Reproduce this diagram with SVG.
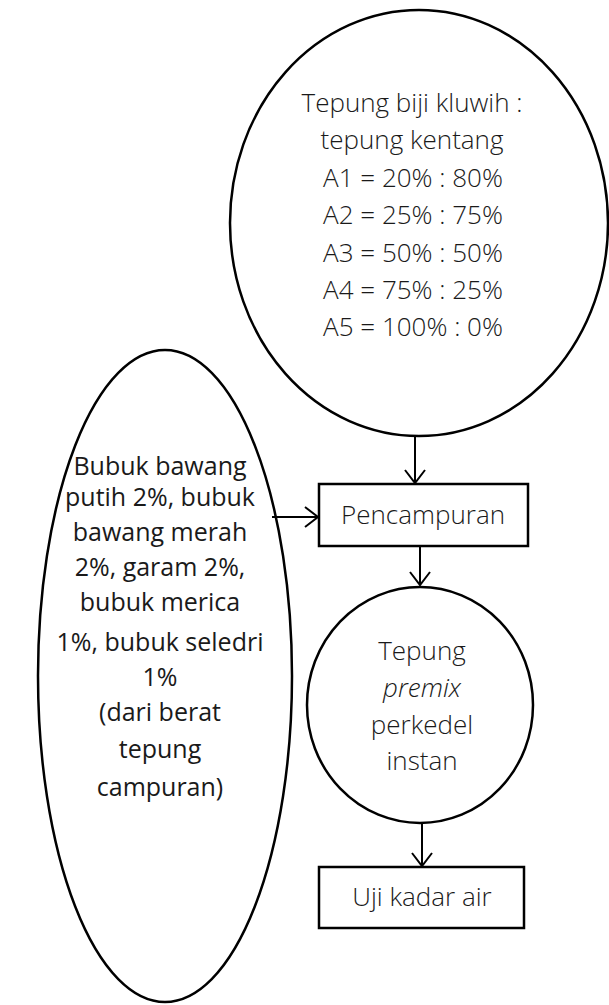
<svg xmlns="http://www.w3.org/2000/svg" width="609" height="1005" viewBox="0 0 609 1005">
<style>
.shape{fill:none;stroke:#000;stroke-width:2.5}
.t{font-family:"Open Sans","Noto Sans",sans-serif;font-size:26px;fill:#1a1a1a;text-anchor:middle;font-weight:300}
.tl{font-family:"Open Sans","Noto Sans",sans-serif;font-size:25px;fill:#1a1a1a;text-anchor:middle}
.c{fill:none;stroke:#000;stroke-width:2}
</style>
<rect width="609" height="1005" fill="#fff"/>
<g id="node-ratio">
<ellipse class="shape" cx="419" cy="223" rx="189" ry="213"/>
<text class="t" x="412" y="112">Tepung biji kluwih :</text>
<text class="t" x="412" y="149">tepung kentang</text>
<text class="t" x="413" y="187">A1 = 20% : 80%</text>
<text class="t" x="413" y="224">A2 = 25% : 75%</text>
<text class="t" x="413" y="262">A3 = 50% : 50%</text>
<text class="t" x="413" y="299">A4 = 75% : 25%</text>
<text class="t" x="413" y="336">A5 = 100% : 0%</text>
</g>
<g id="node-spices">
<ellipse class="shape" cx="165" cy="676" rx="127" ry="326"/>
<text class="tl" x="160" y="475">Bubuk bawang</text>
<text class="tl" x="160" y="506">putih 2%, bubuk</text>
<text class="tl" x="160" y="541">bawang merah</text>
<text class="tl" x="160" y="576">2%, garam 2%,</text>
<text class="tl" x="160" y="611">bubuk merica</text>
<text class="tl" x="160" y="651">1%, bubuk seledri</text>
<text class="tl" x="160" y="686">1%</text>
<text class="tl" x="160" y="721">(dari berat</text>
<text class="tl" x="160" y="758">tepung</text>
<text class="tl" x="160" y="796">campuran)</text>
</g>
<g id="node-mixing">
<rect class="shape" x="319" y="484" width="209" height="62"/>
<text class="t" x="423" y="524">Pencampuran</text>
</g>
<g id="node-premix">
<ellipse class="shape" cx="420" cy="705" rx="113" ry="118"/>
<text class="t" x="422" y="660">Tepung</text>
<text class="t" x="422" y="697" font-style="italic">premix</text>
<text class="t" x="422" y="734">perkedel</text>
<text class="t" x="422" y="770">instan</text>
</g>
<g id="node-moisture">
<rect class="shape" x="319" y="867" width="205" height="61"/>
<text class="t" x="422" y="906">Uji kadar air</text>
</g>
<g id="connectors">
<path class="c" d="M415 437V483M405 470L415 483L425 470"/>
<path class="c" d="M272 517H318M305 507L318 517L305 527"/>
<path class="c" d="M420 546V585M410 572L420 585L430 572"/>
<path class="c" d="M422 823V866M412 853L422 866L432 853"/>
</g>
</svg>
